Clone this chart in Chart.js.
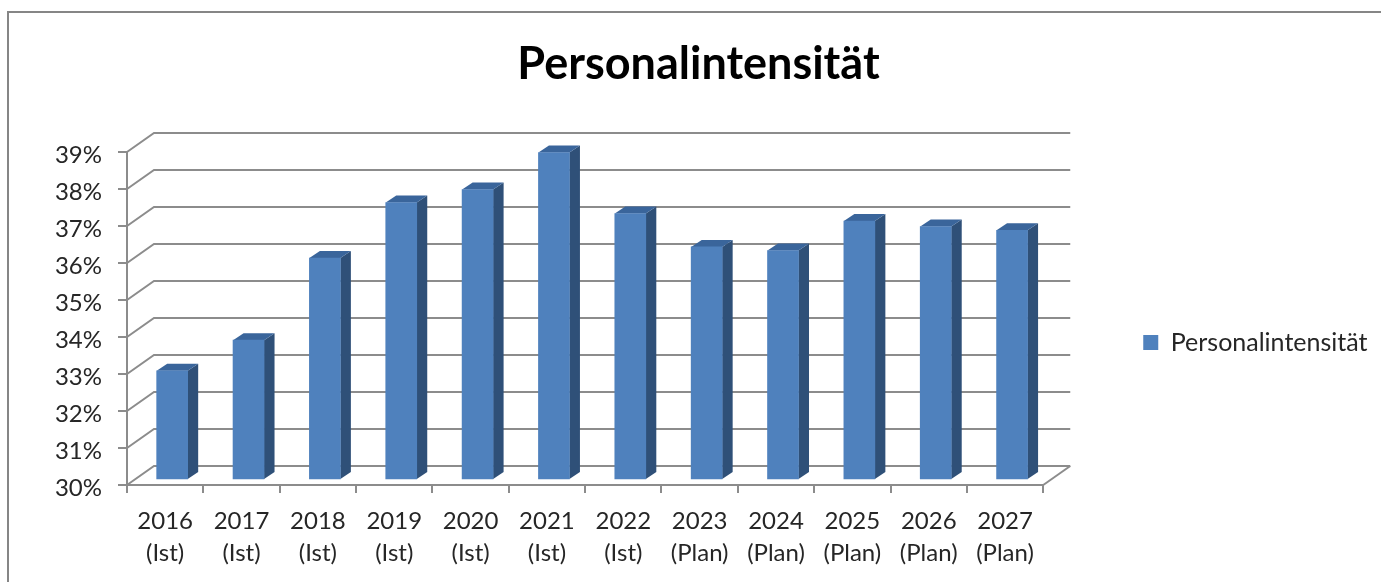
<!DOCTYPE html>
<html lang="de">
<head>
<meta charset="utf-8">
<title>Personalintensität</title>
<script src="https://cdn.jsdelivr.net/npm/chart.js@4"></script>
<style>
  html, body { margin: 0; height: 100%; background: #fff; overflow: hidden; }
  #frame {
    position: absolute; left: 7px; top: 11px;
    border-left: 2px solid #868686; border-top: 2px solid #868686;
  }
  canvas { display: block; }
</style>
</head>
<body>
<div id="frame"><canvas id="chart" width="1383" height="569"></canvas></div>
<script>
var years = ['2016', '2017', '2018', '2019', '2020', '2021', '2022', '2023', '2024', '2025', '2026', '2027'];
var phases = ['(Ist)', '(Ist)', '(Ist)', '(Ist)', '(Ist)', '(Ist)', '(Ist)', '(Plan)', '(Plan)', '(Plan)', '(Plan)', '(Plan)'];
var personalintensitaet = [32.95, 33.78, 36.0, 37.5, 37.85, 38.85, 37.2, 36.3, 36.2, 37.0, 36.85, 36.75];
var seriesName = 'Personalintensität';

var GRID = '#8c8c8c';
var TEXT = '#262626';
var FRONT = '#4f81bd';
var SIDE = '#2f5078';
var TOP = '#3a659b';

// fake 3D: how far the back wall and the bars sit behind the axis plane
var WALL_DX = 27, WALL_DY = -19;
var BAR_DX = 7, BAR_DY = -5;
var SIDE_DX = 10.5, SIDE_DY = -7;

function poly(ctx, pts, color) {
  ctx.fillStyle = color;
  ctx.beginPath();
  ctx.moveTo(pts[0][0], pts[0][1]);
  for (var i = 1; i < pts.length; i++) ctx.lineTo(pts[i][0], pts[i][1]);
  ctx.closePath();
  ctx.fill();
}

var depthPlugin = {
  id: 'depth',
  afterLayout: function (chart) {
    // the big label padding keeps the plot narrow, pull the legend back left
    var legend = chart.legend;
    legend.left -= 19; legend.right -= 19;
    legend.top += 45; legend.bottom += 45;
  },
  beforeDatasetsDraw: function (chart) {
    var ctx = chart.ctx;
    var xs = chart.scales.x, ys = chart.scales.y;
    ctx.save();
    ctx.strokeStyle = GRID;
    ctx.lineWidth = 2;
    ys.ticks.forEach(function (t) {
      var y = ys.getPixelForValue(t.value);
      ctx.beginPath();
      ctx.moveTo(xs.left, y);
      ctx.lineTo(xs.left + WALL_DX, y + WALL_DY);
      ctx.lineTo(xs.right + WALL_DX, y + WALL_DY);
      ctx.stroke();
    });
    var y0 = ys.getPixelForValue(ys.min);
    ctx.beginPath();
    ctx.moveTo(xs.right, y0);
    ctx.lineTo(xs.right + WALL_DX, y0 + WALL_DY);
    ctx.stroke();

    ctx.translate(BAR_DX, BAR_DY);
    chart.getDatasetMeta(0).data.forEach(function (bar) {
      var l = bar.x - bar.width / 2, r = bar.x + bar.width / 2;
      poly(ctx, [[r, bar.y], [r + SIDE_DX, bar.y + SIDE_DY], [r + SIDE_DX, bar.base + SIDE_DY], [r, bar.base]], SIDE);
      poly(ctx, [[l, bar.y], [l + SIDE_DX, bar.y + SIDE_DY], [r + SIDE_DX, bar.y + SIDE_DY], [r, bar.y]], TOP);
    });
  },
  afterDatasetsDraw: function (chart) {
    chart.ctx.restore();
  }
};

new Chart(document.getElementById('chart').getContext('2d'), {
  type: 'bar',
  plugins: [depthPlugin],
  data: {
    labels: years.map(function (y, i) { return [y, phases[i]]; }),
    datasets: [{
      label: seriesName,
      data: personalintensitaet,
      backgroundColor: FRONT,
      barThickness: 31,
      base: 30,
      clip: false
    }]
  },
  options: {
    responsive: false,
    animation: false,
    layout: { autoPadding: false, padding: { right: 4 } },
    plugins: {
      title: {
        display: true,
        text: seriesName,
        color: '#000',
        font: { family: 'Lato', size: 45, weight: 'bold', lineHeight: 1.2 },
        padding: { top: 24, bottom: 61 }
      },
      legend: {
        position: 'right',
        labels: {
          color: TEXT,
          font: { family: 'Lato', size: 25 },
          boxWidth: 15,
          boxHeight: 15,
          padding: 119
        }
      },
      tooltip: { enabled: false }
    },
    scales: {
      x: {
        afterFit: function (scale) { scale.height = 97; },
        border: { color: GRID, width: 2 },
        grid: { drawOnChartArea: false, color: GRID, lineWidth: 2, tickLength: 8 },
        ticks: {
          color: TEXT,
          font: { family: 'Lato', size: 24, lineHeight: 1.35 },
          padding: 12,
          maxRotation: 0,
          autoSkip: false
        }
      },
      y: {
        min: 30,
        max: 39,
        afterFit: function (scale) { scale.width = 118; },
        border: { color: GRID, width: 2 },
        grid: { drawOnChartArea: false, color: GRID, lineWidth: 2, tickLength: 9 },
        ticks: {
          stepSize: 1,
          color: TEXT,
          font: { family: 'Lato', size: 24 },
          padding: 16,
          labelOffset: 3,
          callback: function (v) { return v + '%'; }
        }
      }
    }
  }
});
</script>
</body>
</html>
